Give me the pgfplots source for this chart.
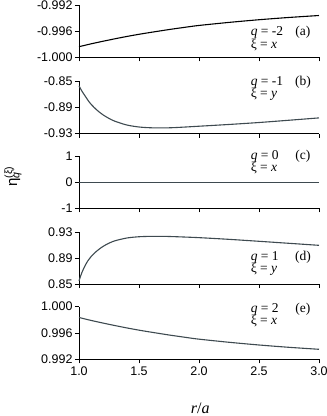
\documentclass[border=0pt]{standalone}
\usepackage{fontspec}
\setmainfont{Liberation Serif}
\setsansfont{Liberation Sans}
\usepackage{pgfplots}
\pgfplotsset{compat=1.18}
\definecolor{curve}{RGB}{62,74,80}

\pgfplotsset{
  panel/.style={
    scale only axis, width=240pt, height=52pt,
    xmin=1, xmax=3, xtick={1,1.5,2,2.5,3}, xticklabels={},
    axis x line*=bottom, axis y line*=left,
    tick align=outside, major tick length=4pt,
    axis line style={line width=0.8pt}, tick style={black, line width=0.8pt},
    tick label style={font=\sffamily\fontsize{12.5}{13}\selectfont},
    yticklabel style={xshift=1pt},
    /pgf/number format/assume math mode=true,
    clip=false,
  },
}
\tikzset{ann/.style={anchor=west, font=\fontsize{13.5}{14}\selectfont, inner sep=0pt}}
\newcommand{\panellbl}[5]{%
  \node[ann] at (rel axis cs:0.715,#1) {\textit{q} = #3};
  \node[ann] at (rel axis cs:0.715,#2) {ξ = \textit{#4}};
  \node[font=\fontsize{13.5}{14}\selectfont] at (rel axis cs:0.933,#1) {(#5)};}

\begin{document}
\begin{tikzpicture}
\useasboundingbox (0,0) rectangle (327pt,416pt);

% (a)
\begin{axis}[panel, at={(79pt,410.5pt)}, anchor=north west,
  ymin=-1, ymax=-0.992, ytick={-1,-0.996,-0.992},
  yticklabels={-1.000,-0.996,-0.992}]
  \addplot[black, line width=1.1pt, smooth] coordinates {
    (1.0,-0.99834) (1.05,-0.99812) (1.1,-0.99790) (1.2,-0.99750) (1.25,-0.99731)
    (1.3,-0.99712) (1.4,-0.99676) (1.5,-0.99643) (1.6,-0.99613) (1.75,-0.99570)
    (1.9,-0.99531) (2.0,-0.99507) (2.25,-0.99460) (2.5,-0.99419) (2.75,-0.99384)
    (3.0,-0.99354)};
  \panellbl{0.49}{0.25}{-2}{x}{a}
\end{axis}

% (b)
\begin{axis}[panel, at={(79pt,334.5pt)}, anchor=north west,
  ymin=-0.93, ymax=-0.85, ytick={-0.93,-0.89,-0.85},
  yticklabels={-0.93,-0.89,-0.85}]
  \addplot[curve, line width=1.1pt, smooth] coordinates {
    (1.0,-0.8567) (1.025,-0.8650) (1.05,-0.8720) (1.075,-0.8790) (1.1,-0.8849)
    (1.15,-0.8941) (1.2,-0.9013) (1.25,-0.9068) (1.3,-0.9112) (1.4,-0.9170)
    (1.5,-0.9200) (1.6,-0.9212) (1.7,-0.9214) (1.8,-0.9209) (2.0,-0.9188)
    (2.25,-0.9161) (2.5,-0.9131) (2.75,-0.9096) (3.0,-0.9060)};
  \panellbl{0.98}{0.75}{-1}{y}{b}
\end{axis}

% (c)
\begin{axis}[panel, at={(79pt,259.5pt)}, anchor=north west,
  ymin=-1, ymax=1, ytick={-1,0,1}, yticklabels={-1,0,1},
  ylabel={\sffamily\fontsize{15}{15}\selectfont η\rlap{\textsuperscript{(ξ)}}\textsubscript{\textit{q}}},
  ylabel style={at={(axis description cs:-0.275,0.56)}, anchor=center}]
  \addplot[curve, line width=1.1pt] coordinates {(1.0,0) (3.0,0)};
  \panellbl{1.0}{0.77}{0}{x}{c}
\end{axis}

% (d)
\begin{axis}[panel, at={(79pt,184pt)}, anchor=north west,
  ymin=0.85, ymax=0.93, ytick={0.85,0.89,0.93},
  yticklabels={0.85,0.89,0.93}]
  \addplot[curve, line width=1.1pt, smooth] coordinates {
    (1.0,0.8550) (1.025,0.8680) (1.05,0.8780) (1.075,0.8860) (1.1,0.8920)
    (1.15,0.9010) (1.2,0.9078) (1.25,0.9128) (1.3,0.9165) (1.4,0.9208)
    (1.5,0.9227) (1.6,0.9233) (1.7,0.9233) (1.8,0.9228) (2.0,0.9213)
    (2.25,0.9187) (2.5,0.9157) (2.75,0.9126) (3.0,0.9095)};
  \panellbl{0.51}{0.28}{1}{y}{d}
\end{axis}

% (e)
\begin{axis}[panel, at={(79pt,109.5pt)}, anchor=north west, height=53pt,
  ymin=0.992, ymax=1, ytick={0.992,0.996,1},
  yticklabels={0.992,0.996,1.000},
  xticklabels={1.0,1.5,2.0,2.5,3.0},
  xlabel={\fontsize{16}{16}\selectfont\textit{r}/\textit{a}},
  xlabel style={at={(axis description cs:0.505,-0.92)}, anchor=center}]
  \addplot[curve, line width=1.1pt, smooth] coordinates {
    (1.0,0.99834) (1.05,0.99812) (1.1,0.99790) (1.2,0.99750) (1.25,0.99731)
    (1.3,0.99712) (1.4,0.99676) (1.5,0.99643) (1.6,0.99613) (1.75,0.99570)
    (1.9,0.99531) (2.0,0.99507) (2.25,0.99460) (2.5,0.99419) (2.75,0.99384)
    (3.0,0.99354)};
  \panellbl{0.94}{0.72}{2}{x}{e}
\end{axis}
\end{tikzpicture}
\end{document}
